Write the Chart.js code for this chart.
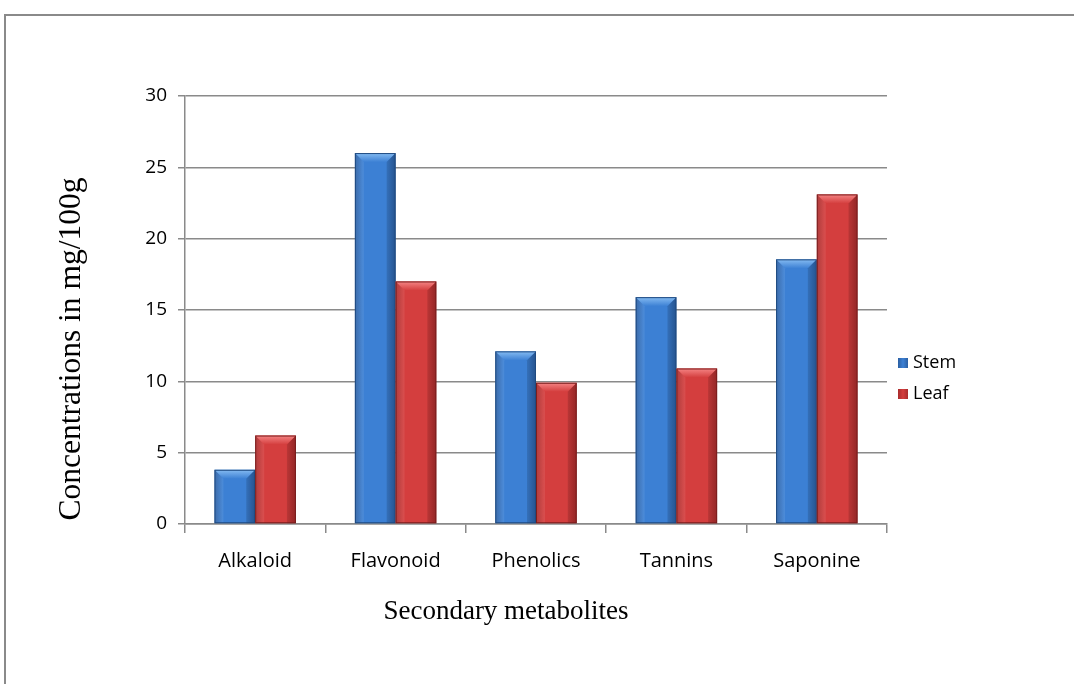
<!DOCTYPE html>
<html>
<head>
<meta charset="utf-8">
<script src="https://cdn.jsdelivr.net/npm/chart.js@4/dist/chart.umd.min.js"></script>
<style>
html,body{margin:0;padding:0;background:#fff;}
#wrap{position:relative;width:1074px;height:684px;}
#frame{position:absolute;left:4px;top:14px;right:-10px;bottom:-10px;border-top:2px solid #8a8a8a;border-left:2px solid #8a8a8a;pointer-events:none;}
canvas{position:absolute;left:0;top:0;}
</style>
</head>
<body>
<div id="wrap">
<canvas id="c" width="1074" height="684"></canvas>
<div id="frame"></div>
</div>
<script>
const categories = ["Alkaloid", "Flavonoid", "Phenolics", "Tannins", "Saponine"];
const stemValues = [3.8, 26.0, 12.1, 15.9, 18.55];
const leafValues = [6.2, 17.0, 9.9, 10.9, 23.1];
const seriesNames = ["Stem", "Leaf"];
const yTicks = [0, 5, 10, 15, 20, 25, 30];
const yTitle = "Concentrations in mg/100g";
const xTitle = "Secondary metabolites";

const palette = {
  Stem: {mid:"#3c80d4", dark:"#2b5fa2", light:"#86bcf2", edge:"#1f4a80"},
  Leaf: {mid:"#d43e3e", dark:"#a82c2c", light:"#f58585", edge:"#7a1e1e"}
};

const bevelPlugin = {
  id: "bevel",
  afterDatasetsDraw(chart) {
    const ctx = chart.ctx;
    chart.data.datasets.forEach((ds, di) => {
      const meta = chart.getDatasetMeta(di);
      const col = palette[ds.label];
      meta.data.forEach(bar => {
        const w = bar.width;
        const l = bar.x - w/2, r = bar.x + w/2;
        const t = bar.y, b = bar.base;
        const h = b - t;
        ctx.save();
        const g = ctx.createLinearGradient(l, 0, r, 0);
        g.addColorStop(0, col.dark);
        g.addColorStop(0.2, col.mid);
        g.addColorStop(0.78, col.mid);
        g.addColorStop(1, col.dark);
        ctx.fillStyle = g;
        ctx.fillRect(l, t, w, h);
        const bv = Math.min(9, h/2);
        ctx.beginPath();
        ctx.moveTo(l, t); ctx.lineTo(r, t); ctx.lineTo(r - bv, t + bv); ctx.lineTo(l + bv, t + bv); ctx.closePath();
        const gt = ctx.createLinearGradient(0, t, 0, t + bv);
        gt.addColorStop(0, col.light); gt.addColorStop(1, col.mid);
        ctx.fillStyle = gt; ctx.fill();
        ctx.beginPath();
        ctx.moveTo(l, t); ctx.lineTo(l + bv, t + bv); ctx.lineTo(l + bv, b); ctx.lineTo(l, b); ctx.closePath();
        ctx.fillStyle = "rgba(255,255,255,0.08)"; ctx.fill();
        ctx.beginPath();
        ctx.moveTo(r, t); ctx.lineTo(r - bv, t + bv); ctx.lineTo(r - bv, b); ctx.lineTo(r, b); ctx.closePath();
        ctx.fillStyle = "rgba(0,0,0,0.12)"; ctx.fill();
        ctx.strokeStyle = col.edge; ctx.lineWidth = 1;
        ctx.strokeRect(l + 0.5, t + 0.5, w - 1, h - 1);
        ctx.restore();
      });
    });
  },
  afterDraw(chart) {
    const ctx = chart.ctx;
    ctx.save();
    ctx.fillStyle = "#000";
    ctx.font = "31.5px 'Liberation Serif', 'Times New Roman', serif";
    ctx.textAlign = "center"; ctx.textBaseline = "middle";
    ctx.translate(72, 349);
    ctx.rotate(-Math.PI/2);
    ctx.fillText(yTitle, 0, 0);
    ctx.restore();
    ctx.save();
    ctx.fillStyle = "#000";
    ctx.font = "27px 'Liberation Serif', 'Times New Roman', serif";
    ctx.textAlign = "center"; ctx.textBaseline = "middle";
    ctx.fillText(xTitle, 506, 612);
    ctx.font = "18px 'Open Sans', sans-serif";
    ctx.textAlign = "left";
    chart.data.datasets.forEach((ds, i) => {
      const y = 363 + i * 31;
      const col = palette[ds.label];
      const g = ctx.createLinearGradient(898, 0, 908, 0);
      g.addColorStop(0, col.dark); g.addColorStop(0.5, col.mid); g.addColorStop(1, col.dark);
      ctx.fillStyle = g;
      ctx.fillRect(898, y - 5, 10, 10);
      ctx.fillStyle = "#000";
      ctx.fillText(ds.label, 913, y);
    });
    ctx.restore();
  }
};

new Chart(document.getElementById("c"), {
  type: "bar",
  data: {
    labels: categories,
    datasets: [
      {label: seriesNames[0], data: stemValues, backgroundColor: "rgba(0,0,0,0)"},
      {label: seriesNames[1], data: leafValues, backgroundColor: "rgba(0,0,0,0)"}
    ]
  },
  options: {
    responsive: false,
    animation: false,
    events: [],
    layout: {padding: {left: 0, top: 96, right: 187, bottom: 0}},
    plugins: {legend: {display: false}, tooltip: {enabled: false}, title: {display: false}},
    datasets: {bar: {categoryPercentage: 0.58, barPercentage: 1.0}},
    scales: {
      x: {
        afterFit(s) { s.height = 160; },
        grid: {display: true, drawOnChartArea: false, drawTicks: true, tickLength: 9, offset: true, color: "#8a8a8a", lineWidth: 1.5},
        border: {display: true, color: "#8a8a8a", width: 1.5},
        ticks: {color: "#000", font: {family: "'Open Sans', sans-serif", size: 20}, padding: 16, maxRotation: 0}
      },
      y: {
        min: 0, max: 30,
        afterFit(s) { s.width = 185; },
        afterBuildTicks(s) { s.ticks = yTicks.map(v => ({value: v})); },
        grid: {color: "#8a8a8a", lineWidth: 1.5, tickLength: 7},
        border: {display: true, color: "#8a8a8a", width: 1.5},
        ticks: {color: "#000", font: {family: "'Open Sans', sans-serif", size: 19}, padding: 11}
      }
    }
  },
  plugins: [bevelPlugin]
});
</script>
</body>
</html>
